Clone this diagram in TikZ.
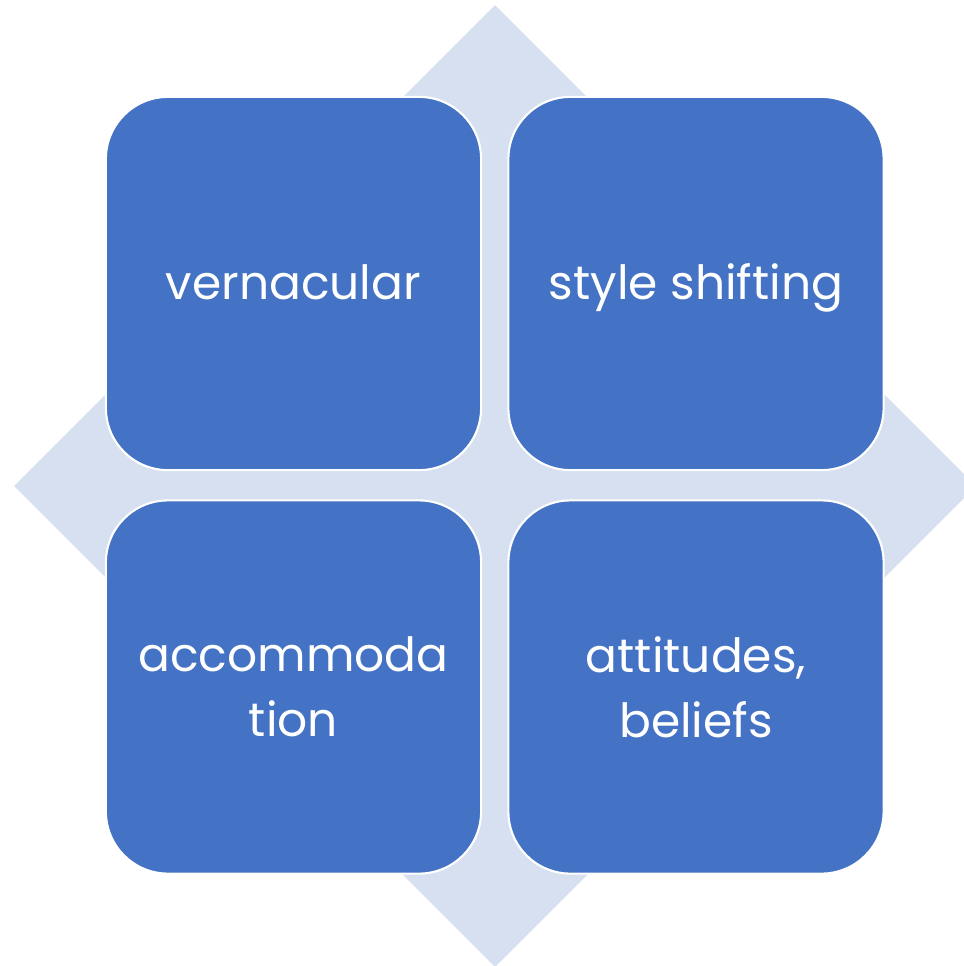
\documentclass[tikz,border=0pt]{standalone}
\usepackage{fontspec}
\setmainfont{Poppins}
\definecolor{boxblue}{HTML}{4472C4}
\definecolor{paleblue}{HTML}{D6E0F0}
\usetikzlibrary{shapes.geometric}
\tikzstyle{backDiamond} = [
 diamond,
 fill=paleblue,
 aspect=1,
 inner sep=0pt,
 minimum width=9.62cm,
 minimum height=9.62cm
]
\tikzstyle{topic} = [
 rectangle,
 rounded corners=0.62cm,
 draw=white,
 line width=0.6pt,
 fill=boxblue,
 text=white,
 align = center,
 minimum width=3.75cm,
 minimum height=3.73cm,
 font=\fontsize{13.4}{18.5}\selectfont
]
\tikzstyle{oneLine} = [
 text height=1.1em,
 text depth=0.19em
]

\begin{document}
\begin{tikzpicture}[x=0.01cm,y=-0.01cm]
  \useasboundingbox (0,0) rectangle (964,966);
  \node [backDiamond] (back) at (495,486) {};
  \node [topic, oneLine] (vern) at (293.5,283.5) {vernacular};
  \node [topic, oneLine] (style) at (696,283.5) {style shifting};
  \node [topic] (accom) at (293.5,687) {accommoda\\tion};
  \node [topic] (att) at (696,687) {attitudes,\\beliefs};
\end{tikzpicture}
\end{document}
